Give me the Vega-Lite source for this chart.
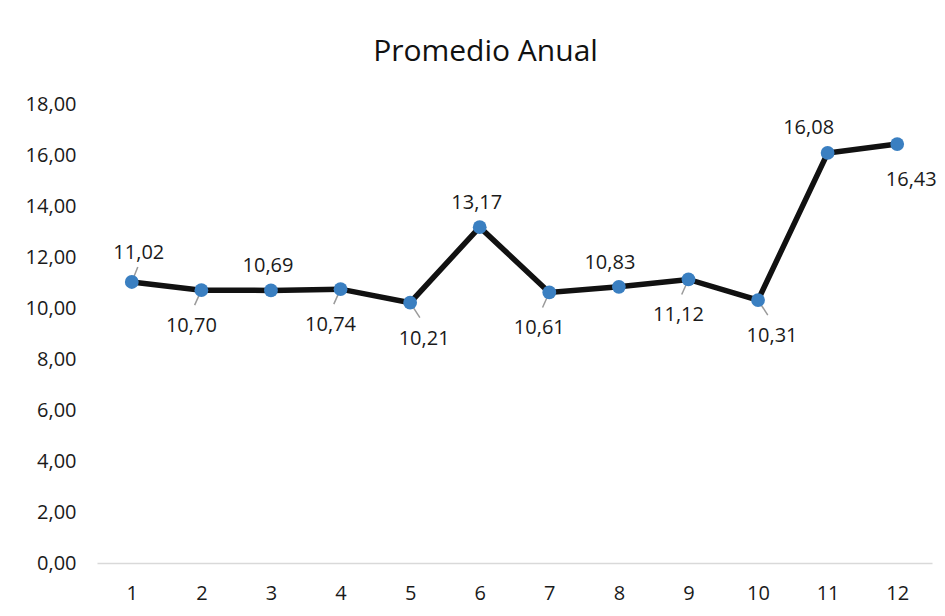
{
  "$schema": "https://vega.github.io/schema/vega-lite/v6.json",
  "autosize": {"type": "none"},
  "padding": {"left": 97, "top": 104, "right": 13, "bottom": 53},
  "width": 835,
  "height": 459,
  "background": "white",
  "title": {
    "text": "Promedio Anual",
    "font": "Open Sans",
    "fontSize": 30,
    "fontWeight": "normal",
    "color": "#111111",
    "anchor": "middle",
    "dx": -29,
    "offset": 27
  },
  "data": {
    "values": [
      {"mes": 1, "promedio": 11.02},
      {"mes": 2, "promedio": 10.70},
      {"mes": 3, "promedio": 10.69},
      {"mes": 4, "promedio": 10.74},
      {"mes": 5, "promedio": 10.21},
      {"mes": 6, "promedio": 13.17},
      {"mes": 7, "promedio": 10.61},
      {"mes": 8, "promedio": 10.83},
      {"mes": 9, "promedio": 11.12},
      {"mes": 10, "promedio": 10.31},
      {"mes": 11, "promedio": 16.08},
      {"mes": 12, "promedio": 16.43}
    ]
  },
  "encoding": {
    "x": {
      "field": "mes",
      "type": "ordinal",
      "scale": {"type": "point", "padding": 0.5},
      "axis": {
        "title": null,
        "labelAngle": 0,
        "labelFont": "Open Sans",
        "labelFontSize": 20,
        "labelColor": "#1a1a1a",
        "labelPadding": 20,
        "ticks": false,
        "domainColor": "#d9d9d9",
        "domainWidth": 1.5,
        "grid": false
      }
    },
    "y": {
      "field": "promedio",
      "type": "quantitative",
      "scale": {"domain": [0, 18], "nice": false},
      "axis": {
        "title": null,
        "values": [0, 2, 4, 6, 8, 10, 12, 14, 16, 18],
        "format": ".2f",
        "labelFont": "Open Sans",
        "labelFontSize": 20,
        "labelColor": "#1a1a1a",
        "labelPadding": 21,
        "ticks": false,
        "domain": false,
        "grid": false
      }
    }
  },
  "layer": [
    {
      "transform": [{"filter": {"field": "mes", "oneOf": [1]}}],
      "mark": {"type": "point", "shape": "M0,0L0.4,-1", "size": 900, "filled": false, "color": "#9a9a9a", "strokeWidth": 1.5, "opacity": 1}
    },
    {
      "transform": [{"filter": {"field": "mes", "oneOf": [2, 4, 7, 9]}}],
      "mark": {"type": "point", "shape": "M0,0L-0.45,1", "size": 900, "filled": false, "color": "#9a9a9a", "strokeWidth": 1.5, "opacity": 1}
    },
    {
      "transform": [{"filter": {"field": "mes", "oneOf": [5, 10]}}],
      "mark": {"type": "point", "shape": "M0,0L0.65,1", "size": 900, "filled": false, "color": "#9a9a9a", "strokeWidth": 1.5, "opacity": 1}
    },
    {
      "mark": {"type": "line", "color": "#111111", "strokeWidth": 5.5}
    },
    {
      "mark": {"type": "circle", "size": 190, "color": "#3a7fc1", "opacity": 1}
    },
    {
      "transform": [{"filter": {"field": "mes", "oneOf": [1]}}],
      "mark": {"type": "text", "font": "Open Sans", "fontSize": 20, "color": "#1a1a1a", "dx": 7, "dy": -29, "baseline": "middle"},
      "encoding": {"text": {"field": "promedio", "type": "quantitative", "format": ".2f"}}
    },
    {
      "transform": [{"filter": {"field": "mes", "oneOf": [3, 6]}}],
      "mark": {"type": "text", "font": "Open Sans", "fontSize": 20, "color": "#1a1a1a", "dx": -3, "dy": -24, "baseline": "middle"},
      "encoding": {"text": {"field": "promedio", "type": "quantitative", "format": ".2f"}}
    },
    {
      "transform": [{"filter": {"field": "mes", "oneOf": [8]}}],
      "mark": {"type": "text", "font": "Open Sans", "fontSize": 20, "color": "#1a1a1a", "dx": -9, "dy": -24, "baseline": "middle"},
      "encoding": {"text": {"field": "promedio", "type": "quantitative", "format": ".2f"}}
    },
    {
      "transform": [{"filter": {"field": "mes", "oneOf": [11]}}],
      "mark": {"type": "text", "font": "Open Sans", "fontSize": 20, "color": "#1a1a1a", "dx": -19, "dy": -25, "baseline": "middle"},
      "encoding": {"text": {"field": "promedio", "type": "quantitative", "format": ".2f"}}
    },
    {
      "transform": [{"filter": {"field": "mes", "oneOf": [2, 4, 7, 9]}}],
      "mark": {"type": "text", "font": "Open Sans", "fontSize": 20, "color": "#1a1a1a", "dx": -10, "dy": 36, "baseline": "middle"},
      "encoding": {"text": {"field": "promedio", "type": "quantitative", "format": ".2f"}}
    },
    {
      "transform": [{"filter": {"field": "mes", "oneOf": [5, 10, 12]}}],
      "mark": {"type": "text", "font": "Open Sans", "fontSize": 20, "color": "#1a1a1a", "dx": 14, "dy": 36, "baseline": "middle"},
      "encoding": {"text": {"field": "promedio", "type": "quantitative", "format": ".2f"}}
    }
  ],
  "config": {
    "view": {"stroke": null},
    "locale": {
      "number": {"decimal": ",", "thousands": ".", "grouping": [3], "currency": ["", " €"]}
    }
  }
}
